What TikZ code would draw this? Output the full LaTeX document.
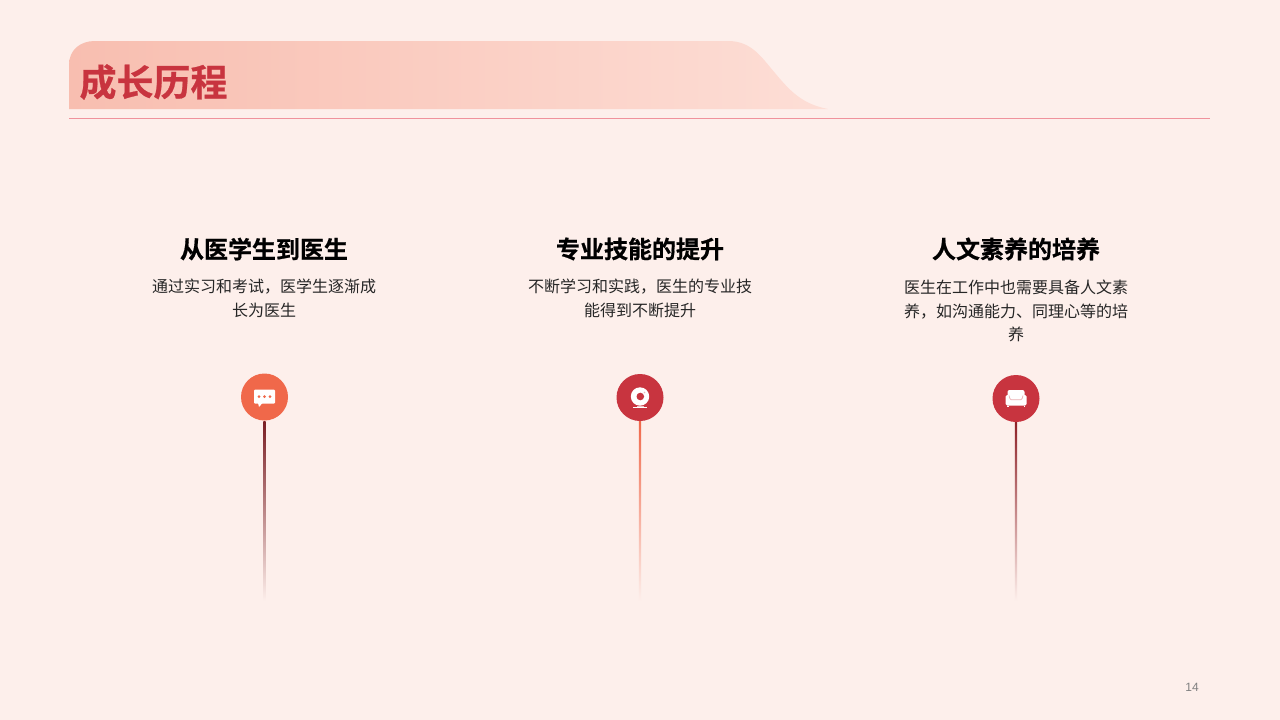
\documentclass[tikz,border=0pt]{standalone}
\usepackage{fontspec}
\setmainfont{Noto Sans CJK SC}
\newfontfamily\cjkb[FakeBold=0.6]{Noto Sans CJK SC Bold}
\newfontfamily\lat{Liberation Sans}
\definecolor{bgc}{HTML}{FDEFEB}
\definecolor{bana}{HTML}{F8BEB0}
\definecolor{banm}{HTML}{FACEC3}
\definecolor{banb}{HTML}{FDDED6}
\definecolor{rulec}{HTML}{F0929C}
\definecolor{redc}{HTML}{C8343F}
\definecolor{orgc}{HTML}{F0684A}
\definecolor{darkc}{HTML}{7A1F24}
\definecolor{midc}{HTML}{8E2228}
\tikzset{
  x=1pt,y=-1pt,
  titletext/.style={font=\cjkb\fontsize{37}{37}\selectfont,text=redc,anchor=center,inner sep=0pt},
  headtext/.style={font=\cjkb\fontsize{24}{24}\selectfont,text=black,anchor=center,inner sep=0pt},
  bodytext/.style={font=\fontsize{16}{23.3}\selectfont,text=black!85,align=center,anchor=north,inner sep=0pt},
  dot/.style={circle,minimum size=47pt,inner sep=0pt,draw=none},
  icon/.style={fill=white,draw=none},
}
\begin{document}
\begin{tikzpicture}
\useasboundingbox (0,0) rectangle (1280,720);
\fill[bgc] (0,0) rectangle (1280,720);
% banner
\shade[left color=bana,middle color=banm,right color=banb] (69,109) -- (69,65) .. controls (69,50) and (80,41) .. (95,41) -- (728,41)
  .. controls (752,41) and (762,58) .. (775,73) .. controls (790,91) and (802,104) .. (828,109) -- cycle;
\draw[rulec,line width=1pt] (69,118.5) -- (1210,118.5);
\node[titletext] (title) at (153.5,82) {成长历程};
% headings
\node[headtext] (h1) at (264,249) {从医学生到医生};
\node[headtext] (h2) at (640,249) {专业技能的提升};
\node[headtext] (h3) at (1016,249) {人文素养的培养};
\node[bodytext] (b1) at (264,279) {通过实习和考试，医学生逐渐成\\长为医生};
\node[bodytext] (b2) at (640,279) {不断学习和实践，医生的专业技\\能得到不断提升};
\node[bodytext] (b3) at (1016,280) {医生在工作中也需要具备人文素\\养，如沟通能力、同理心等的培\\养};
% circles
\node[dot,fill=orgc] (c1) at (264.5,397) {};
\node[dot,fill=redc] (c2) at (640,397.5) {};
\node[dot,fill=redc] (c3) at (1016,398.5) {};
% line ends
\coordinate (e1) at (264.5,601);
\coordinate (e2) at (640,601);
\coordinate (e3) at (1016,601);
% gradient connectors
\shade[top color=darkc,bottom color=bgc] ([xshift=-1.1pt,yshift=-1pt]c1.south) rectangle ([xshift=1.1pt]e1);
\shade[top color=orgc,bottom color=bgc] ([xshift=-1.1pt]c2.south) rectangle ([xshift=1.1pt]e2);
\shade[top color=midc,bottom color=bgc] ([xshift=-1.1pt]c3.south) rectangle ([xshift=1.1pt]e3);
% icon 1: speech bubble
\begin{scope}[shift={(c1.center)}]
\fill[icon,rounded corners=1pt] (-10.5,-7.5) rectangle (10.5,6.5);
\fill[icon] (-6.5,6) -- (-5.5,10) -- (-2,6) -- cycle;
\fill[orgc] (-5.5,-0.5) circle (1.5) (0,-0.5) circle (1.5) (5.5,-0.5) circle (1.5);
\end{scope}
% icon 2: webcam
\begin{scope}[shift={(c2.center)}]
\fill[icon] (0,-1) circle (9.2);
\fill[redc] (0.3,-1) circle (3.8);
\fill[redc!35!white] (4.5,-5) circle (0.8);
\fill[icon] (-7,9.5) rectangle (7,10.5);
\fill[white!70!redc] (-3.5,8.2) rectangle (3.5,9.5);
\end{scope}
% icon 3: armchair
\begin{scope}[shift={(c3.center)}]
\fill[icon,rounded corners=2pt] (-8.5,-8.5) rectangle (8.5,1);
\fill[icon,rounded corners=1.5pt] (-10.5,-3.5) rectangle (10.5,7);
\fill[icon] (-9,7) rectangle (-7.5,8.8);
\fill[icon] (7.5,7) rectangle (9,8.8);
\draw[redc!40!white,line width=0.7pt] (-7,-3) .. controls (-6.5,-1) and (-6,1.2) .. (-5,1.2) -- (5,1.2) .. controls (6,1.2) and (6.5,-1) .. (7,-3);
\end{scope}
\node[font=\lat\fontsize{12}{12}\selectfont,text=black!50,inner sep=0pt] (pg) at (1192,687) {14};
\end{tikzpicture}
\end{document}
